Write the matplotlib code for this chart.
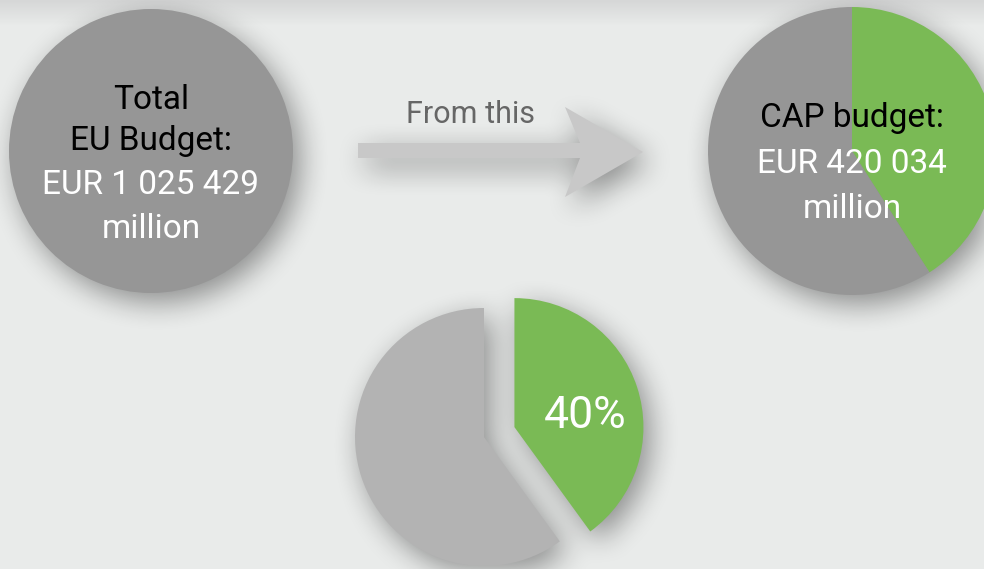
import numpy as np
import matplotlib
matplotlib.use("Agg")
import matplotlib.pyplot as plt
from matplotlib.path import Path

# data
total_budget = 1025429      # EUR million
cap_budget = 420034         # EUR million
cap_share = [40, 60]        # percent, CAP vs rest
total_lines = ["Total", "EU Budget:", "EUR 1 025 429", "million"]
cap_lines = ["CAP budget:", "EUR 420 034", "million"]
arrow_label = "From this"

W, H = 984, 569
BG = "#e9ebea"
GREY = "#969696"
LIGHT = "#b3b3b3"
GREEN = "#7aba55"
FONT = ["Roboto", "DejaVu Sans"]

fig = plt.figure(figsize=(W / 100, H / 100), dpi=100)
ax = fig.add_axes([0, 0, 1, 1])


def py(y):
    # pixel row from the top -> data y
    return H - y


def shift(a, dy, dx):
    # shift without wrap-around
    out = np.zeros_like(a)
    out[dy:, dx:] = a[:a.shape[0] - dy, :a.shape[1] - dx]
    return out


def blur1d(a, k, axis):
    R = len(k) // 2
    pad = [(0, 0), (0, 0)]
    pad[axis] = (R, R)
    p = np.pad(a, pad)
    out = np.zeros_like(a)
    n = a.shape[axis]
    for i, kv in enumerate(k):
        if axis == 0:
            out += kv * p[i:i + n, :]
        else:
            out += kv * p[:, i:i + n]
    return out


# background with darker band at the top
bg = np.ones((H, 1, 3)) * np.array([0xe9, 0xeb, 0xea]) / 255
top = np.array([0xd6, 0xd7, 0xd7]) / 255
for r in range(26):
    t = r / 25
    bg[r, 0] = top * (1 - t) + bg[r, 0] * t
ax.imshow(bg, extent=(0, W, 0, H), aspect="auto", zorder=0)

# pies
w_left, _ = ax.pie([total_budget], colors=[GREY], radius=142,
                   center=(151, py(151)), startangle=90)
w_right, _ = ax.pie([cap_budget, total_budget - cap_budget],
                    colors=[GREEN, GREY], radius=144,
                    center=(852, py(151)), startangle=90, counterclock=False)
w_bottom, _ = ax.pie(cap_share, colors=[GREEN, LIGHT], radius=129,
                     center=(484, py(437)), startangle=90, counterclock=False,
                     explode=[32, 0])
for w in list(w_left) + list(w_right) + list(w_bottom):
    w.set_zorder(3)
    w.set_edgecolor("none")

# arrow (shaft + swept head)
arrow = [(358, 143), (580, 143), (565, 107), (643, 152),
         (565, 197), (580, 158), (358, 158)]
arrow_xy = [(x, py(y)) for x, y in arrow]
ax.add_patch(plt.Polygon(arrow_xy, closed=True, color="#c8c8c8",
                         zorder=3, lw=0))

# soft drop shadows from the shapes above
X, Y = np.meshgrid(np.arange(W) + 0.5, H - np.arange(H) - 0.5)
pts = np.column_stack([X.ravel(), Y.ravel()])
mask = np.zeros(H * W)
for w in list(w_left) + list(w_right) + list(w_bottom):
    mask = np.maximum(mask, w.get_path().contains_points(pts))
mask = np.maximum(mask, Path(arrow_xy).contains_points(pts))
mask = mask.reshape(H, W)

mask = shift(mask, 9, 7)
R = 15
k = np.exp(-0.5 * (np.arange(-2 * R, 2 * R + 1) / R) ** 2)
k /= k.sum()
blur = blur1d(blur1d(mask, k, 0), k, 1)
shadow = np.zeros((H, W, 4))
shadow[..., 3] = blur * 0.4
ax.imshow(shadow, extent=(0, W, 0, H), aspect="auto", zorder=1)

# texts
ax.text(470, py(123), arrow_label, ha="center", va="baseline",
        color="#666666", fontsize=22, family=FONT, zorder=5)

ys = [109, 150, 194, 238]
cols = ["black", "black", "white", "white"]
for s, y, c in zip(total_lines, ys, cols):
    ax.text(151, py(y), s, ha="center", va="baseline", color=c,
            fontsize=24, family=FONT, zorder=5)

ys = [127, 173, 218]
cols = ["black", "white", "white"]
for s, y, c in zip(cap_lines, ys, cols):
    ax.text(852, py(y), s, ha="center", va="baseline", color=c,
            fontsize=24, family=FONT, zorder=5)

ax.text(585, py(428), f"{cap_share[0]}%", ha="center", va="baseline",
        color="white", fontsize=32, family=FONT, zorder=5)

ax.set_xlim(0, W)
ax.set_ylim(0, H)
ax.set_aspect("auto")
ax.axis("off")
fig.savefig("out.png", dpi=100, facecolor=BG)
